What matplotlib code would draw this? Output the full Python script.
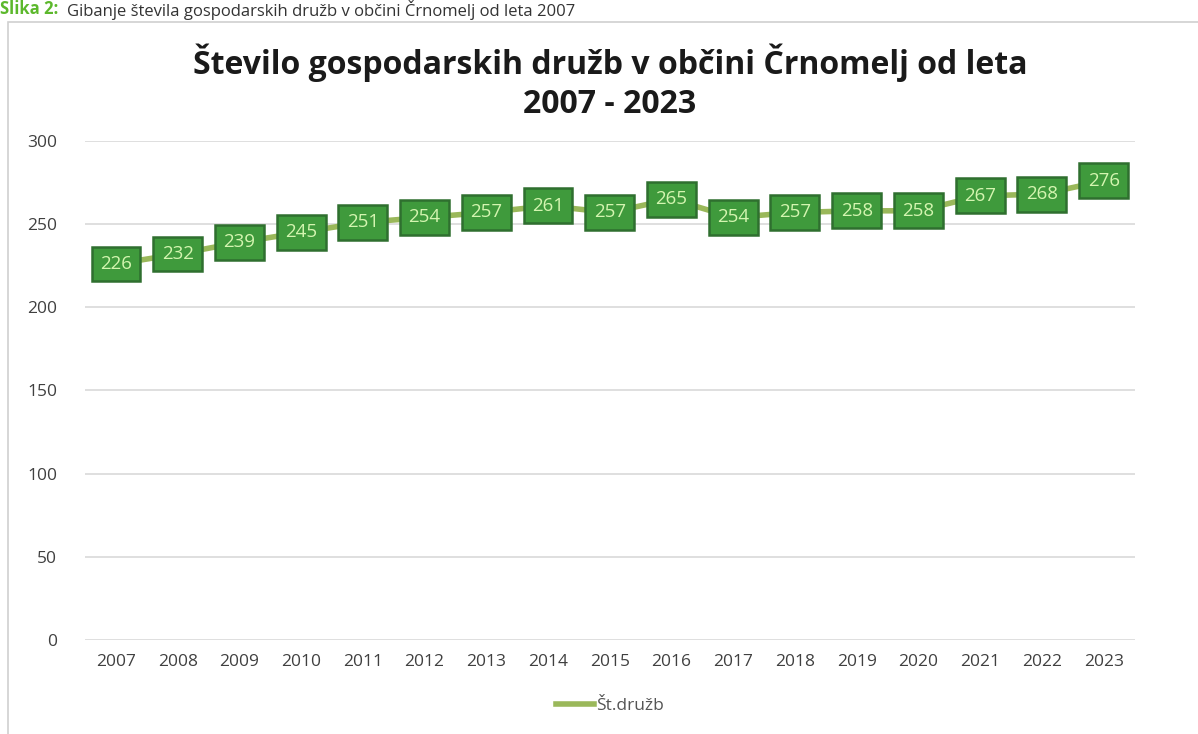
import matplotlib
matplotlib.use('Agg')
import matplotlib.pyplot as plt
from matplotlib.patches import Rectangle
import numpy as np

years = ['2007', '2008', '2009', '2010', '2011', '2012', '2013', '2014', '2015',
         '2016', '2017', '2018', '2019', '2020', '2021', '2022', '2023']
druzbe = [226, 232, 239, 245, 251, 254, 257, 261, 257, 265, 254, 257, 258, 258, 267, 268, 276]

plt.rcParams['font.family'] = ['Open Sans', 'DejaVu Sans']

fig = plt.figure(figsize=(11.98, 7.34), dpi=100)
ax = fig.add_axes([0.071, 0.128, 0.876, 0.680])

# chart frame + caption on top
fig.patches.append(Rectangle((8 / 1198, -0.01), 1.2, (734 - 22) / 734 + 0.01,
                             transform=fig.transFigure, fill=False,
                             edgecolor='#d0d0d0', linewidth=1.2))
fig.text(0.0, 1.0, 'Slika 2:', color='#5cb82c', fontsize=12, fontweight='bold', va='top')
fig.text(0.056, 1.0, 'Gibanje števila gospodarskih družb v občini Črnomelj od leta 2007',
         color='#333333', fontsize=12, va='top')

x = np.arange(len(years))
ax.plot(x, druzbe, color='#9ab85a', linewidth=4, label='Št.družb', zorder=2)

for xi, v in zip(x, druzbe):
    ax.annotate(str(v), (xi, v), ha='center', va='center', fontsize=13.5,
                color='#d4f5b0', zorder=3,
                bbox=dict(boxstyle='square,pad=0.45', facecolor='#3f9a3c',
                          edgecolor='#2f6f2f', linewidth=1.8))

ax.set_xlim(-0.5, len(years) - 0.5)
ax.set_ylim(0, 300)
ax.set_yticks(range(0, 301, 50))
ax.set_xticks(x)
ax.set_xticklabels(years)
ax.grid(axis='y', color='#d9d9d9', linewidth=1.2)
ax.set_axisbelow(True)
for s in ax.spines.values():
    s.set_visible(False)
ax.tick_params(length=0, labelsize=12.5, colors='#404040', pad=10)
ax.tick_params(axis='y', pad=20)

ax.set_title('Število gospodarskih družb v občini Črnomelj od leta\n2007 - 2023',
             fontsize=23, fontweight='bold', color='#1a1a1a', pad=20, linespacing=1.25)

leg = ax.legend(loc='upper center', bbox_to_anchor=(0.5, -0.085), frameon=False,
                fontsize=12.5, handlelength=2.2, handletextpad=0.1)
for t in leg.get_texts():
    t.set_color('#555555')

fig.savefig('out.png', dpi=100)
